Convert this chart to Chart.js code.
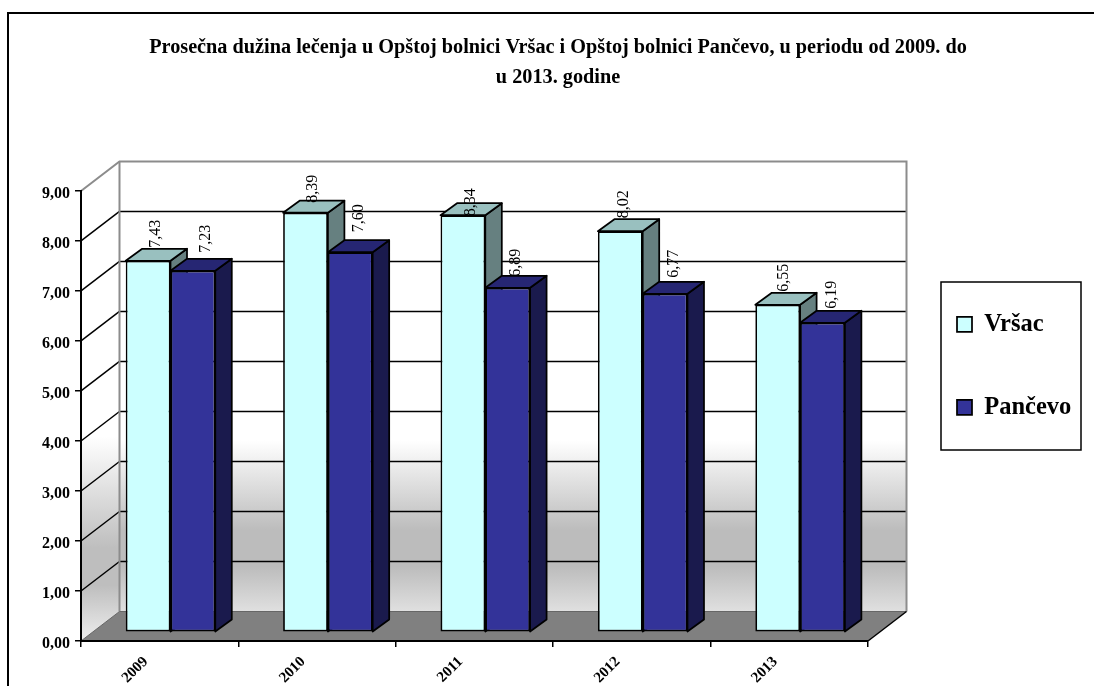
<!DOCTYPE html>
<html><head><meta charset="utf-8">
<style>html,body{margin:0;padding:0;background:#fff}canvas{display:block}</style>
<script src="https://cdn.jsdelivr.net/npm/chart.js@4"></script>
</head><body>
<canvas id="c" width="1094" height="686"></canvas>
<script>
const categories = ["2009","2010","2011","2012","2013"];
const vrsac = [7.43,8.39,8.34,8.02,6.55];
const pancevo = [7.23,7.60,6.89,6.77,6.19];
const seriesNames = ["Vršac","Pančevo"];
const titleLines = ["Prosečna dužina lečenja u Opštoj bolnici Vršac i Opštoj bolnici Pančevo, u periodu od 2009. do","u 2013. godine"];
// hand-placed data label nudges, as in the original
const labelLift = [[13,10,-1,13,13],[18,20,11,16,14]];
const labelShift = [[8,7,8,3,6],[13,9,8,9,9]];

const SERIF = '"Liberation Serif","Times New Roman",serif';
const WALL = {dx:38.5, dy:-29.5};
const BAR = {dx:16.5, dy:-12, sx:10.8, sy:-8.7};
const fmt = v => v.toFixed(2).replace('.',',');

function poly(ctx, pts, fill, stroke, lw){
  ctx.beginPath(); pts.forEach((p,i)=> i?ctx.lineTo(p[0],p[1]):ctx.moveTo(p[0],p[1])); ctx.closePath();
  if(fill){ctx.fillStyle=fill;ctx.fill();}
  if(stroke){ctx.strokeStyle=stroke;ctx.lineWidth=lw||1;ctx.stroke();}
}
function line(ctx,x1,y1,x2,y2,c,lw){ctx.beginPath();ctx.moveTo(x1,y1);ctx.lineTo(x2,y2);ctx.strokeStyle=c;ctx.lineWidth=lw;ctx.stroke();}

const stage = {
  id:'stage',
  afterLayout(chart){
    const t=chart.titleBlock; t.left=22; t.right=1094;
    const l=chart.legend; const p=l.options.labels.padding;
    l.left=957-p; l.right=1094; l.top=312-p; l.bottom=686; l.width=l.right-l.left; l.height=l.bottom-l.top;
  },
  beforeDraw(chart){
    const ctx=chart.ctx, a=chart.chartArea, y=chart.scales.y;
    const L=a.left,R=a.right,B=y.getPixelForValue(0),T=y.getPixelForValue(9);
    const dx=WALL.dx,dy=WALL.dy;
    ctx.save();
    ctx.fillStyle='#fff';ctx.fillRect(0,0,chart.width,chart.height);
    // outer frame
    ctx.beginPath();ctx.moveTo(8,686);ctx.lineTo(8,13);ctx.lineTo(1094,13);ctx.strokeStyle='#000';ctx.lineWidth=2;ctx.stroke();
    // walls
    const g=ctx.createLinearGradient(0,T+dy,0,B+dy);
    g.addColorStop(0,'#fff');g.addColorStop(0.62,'#fff');g.addColorStop(0.82,'#bcbcbc');g.addColorStop(0.9,'#bcbcbc');g.addColorStop(1,'#e0e0e0');
    poly(ctx,[[L+dx,T+dy],[R+dx,T+dy],[R+dx,B+dy],[L+dx,B+dy]],g);
    const g2=ctx.createLinearGradient(0,T+dy+15,0,B);
    g2.addColorStop(0,'#fff');g2.addColorStop(0.56,'#fff');g2.addColorStop(0.8,'#bebebe');g2.addColorStop(0.88,'#bebebe');g2.addColorStop(1,'#eeeeee');
    poly(ctx,[[L,B],[L+dx,B+dy],[L+dx,T+dy],[L,T]],g2);
    // floor
    poly(ctx,[[L,B],[L+dx,B+dy],[R+dx,B+dy],[R,B]],'#808080');
    // grid lines
    y.ticks.forEach(t=>{
      if(t.value===0||t.value===9) return;
      const py=y.getPixelForValue(t.value);
      line(ctx,L,py,L+dx,py+dy,'#000',1.5);
      line(ctx,L+dx,py+dy,R+dx,py+dy,'#000',1.5);
    });
    // wall outline
    ctx.lineJoin='miter';
    ctx.beginPath();ctx.moveTo(L,T);ctx.lineTo(L+dx,T+dy);ctx.lineTo(R+dx,T+dy);ctx.lineTo(R+dx,B+dy);
    ctx.strokeStyle='#8c8c8c';ctx.lineWidth=2;ctx.stroke();
    line(ctx,L+dx,T+dy,L+dx,B+dy,'#8c8c8c',2);
    line(ctx,L,B,L+dx,B+dy,'#666',1);
    line(ctx,L+dx,B+dy,R+dx,B+dy,'#666',1);
    line(ctx,R,B,R+dx,B+dy,'#000',1.5);
    // legend frame
    ctx.strokeStyle='#000';ctx.lineWidth=1.5;ctx.strokeRect(941,282,140,168);
    ctx.restore();
  },
  beforeDatasetsDraw(chart){
    // Vršac first, so Pančevo's top overlaps Vršac's side face
    const ctx=chart.ctx;
    ctx.save();ctx.translate(BAR.sx,BAR.sy);
    [0,1].forEach(i=>{
      const meta=chart.getDatasetMeta(i), ds=chart.data.datasets[i];
      meta.data.forEach(el=>{
        const p=el.getProps(['x','y','base','width'],true);
        const l=p.x-p.width/2,r=p.x+p.width/2;
        ctx.lineJoin='round';
        poly(ctx,[[r,p.y],[r+BAR.dx,p.y+BAR.dy],[r+BAR.dx,p.base+BAR.dy],[r,p.base]],ds.sideColor,'#000',1.75);
        poly(ctx,[[l,p.y],[l+BAR.dx,p.y+BAR.dy],[r+BAR.dx,p.y+BAR.dy],[r,p.y]],ds.topColor,'#000',1.75);
      });
      meta.controller.draw();
    });
    ctx.restore();
    return false;
  },
  afterDraw(chart){
    const ctx=chart.ctx;
    ctx.save();
    ctx.font='16px '+SERIF;ctx.fillStyle='#000';ctx.textAlign='left';ctx.textBaseline='middle';
    chart.data.datasets.forEach((ds,i)=>{
      chart.getDatasetMeta(i).data.forEach((el,j)=>{
        const x=el.x+BAR.sx+labelShift[i][j], y=el.y+BAR.sy-labelLift[i][j];
        ctx.save();ctx.translate(x,y);ctx.rotate(-Math.PI/2);
        ctx.fillText(fmt(ds.data[j]),0,0);ctx.restore();
      });
    });
    ctx.restore();
  }
};

new Chart(document.getElementById('c'),{
  type:'bar',
  data:{labels:categories,datasets:[
    {label:seriesNames[0],data:vrsac,backgroundColor:'#CCFFFF',borderColor:'#000',borderWidth:1.75,borderSkipped:false,topColor:'#99C0BF',sideColor:'#668080'},
    {label:seriesNames[1],data:pancevo,backgroundColor:'#333399',borderColor:'#000',borderWidth:1.75,borderSkipped:false,topColor:'#262673',sideColor:'#1A1A4D'}
  ]},
  options:{
    responsive:false,animation:false,
    layout:{padding:{left:0,right:226,top:0,bottom:0}},
    datasets:{bar:{categoryPercentage:0.569,barPercentage:1}},
    plugins:{
      tooltip:{enabled:false},
      title:{display:true,text:titleLines,color:'#000',font:{family:SERIF,size:20.25,weight:'bold',lineHeight:1.48},padding:{top:33,bottom:98}},
      legend:{display:true,position:'chartArea',align:'start',
        labels:{boxWidth:15,boxHeight:15,padding:58.5,color:'#000',font:{family:SERIF,size:24.5,weight:'bold'}}}
    },
    scales:{
      x:{
        offset:true,
        afterFit:s=>{s.height=45;},
        grid:{offset:true,drawOnChartArea:false,color:'#000',lineWidth:1.5,tickLength:6},
        border:{color:'#000',width:2},
        ticks:{autoSkip:false,minRotation:45,maxRotation:45,labelOffset:-14,padding:6,color:'#000',font:{family:SERIF,size:15,weight:'bold'}}
      },
      y:{
        min:0,max:9,
        afterFit:s=>{s.width=81;},
        grid:{drawOnChartArea:false,color:'#000',lineWidth:1.5,tickLength:6},
        border:{color:'#000',width:2},
        ticks:{stepSize:1,padding:5,labelOffset:2.5,color:'#000',font:{family:SERIF,size:16,weight:'bold'},callback:v=>fmt(v)}
      }
    }
  },
  plugins:[stage]
});
</script>
</body></html>
